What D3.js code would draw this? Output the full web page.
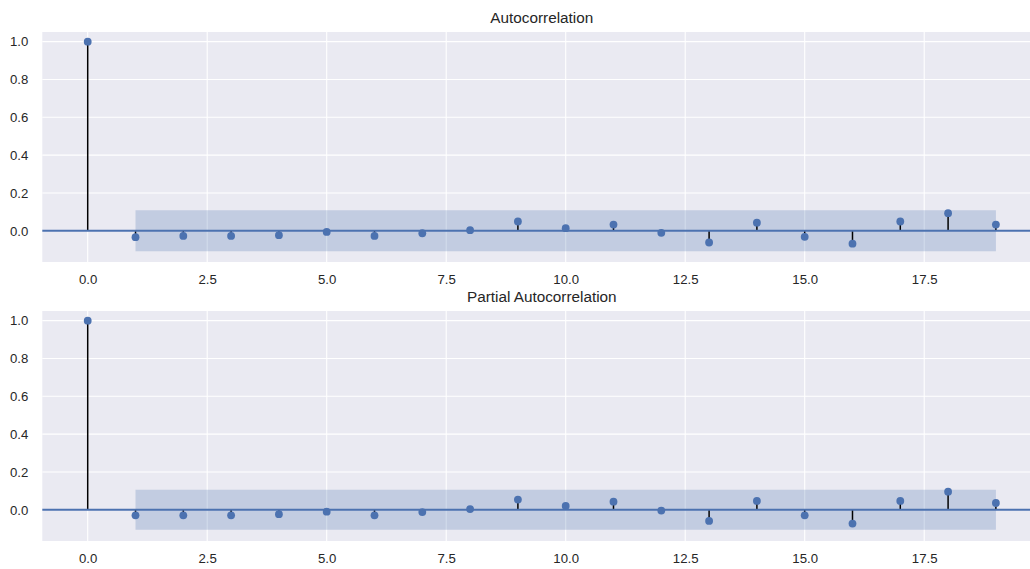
<!DOCTYPE html>
<html>
<head>
<meta charset="utf-8">
<script src="https://cdn.jsdelivr.net/npm/d3@7"></script>
<style>
  html, body { margin: 0; padding: 0; background: #ffffff; }
  svg { display: block; }
  text { font-family: "Liberation Sans", Arial, "DejaVu Sans", sans-serif; fill: #262626; }
</style>
</head>
<body>
<svg id="chart" width="1030" height="569"></svg>
<script>
// Lags shown on both correlograms
const lags = d3.range(0, 20);

// Sample autocorrelation by lag
const acfValues = [1.0, -0.034, -0.027, -0.027, -0.023, -0.006, -0.027, -0.013, 0.003, 0.049,
                   0.014, 0.033, -0.011, -0.062, 0.043, -0.032, -0.068, 0.049, 0.093, 0.033];

// Sample partial autocorrelation by lag
const pacfValues = [1.0, -0.029, -0.029, -0.029, -0.023, -0.010, -0.029, -0.012, 0.004, 0.054,
                    0.020, 0.043, -0.004, -0.059, 0.047, -0.029, -0.073, 0.047, 0.096, 0.036];

// 95% confidence half-width for lags 1..19
const acfConf  = [0.108, 0.108, 0.108, 0.108, 0.108, 0.108, 0.108, 0.108, 0.108, 0.108,
                  0.108, 0.108, 0.108, 0.108, 0.108, 0.108, 0.108, 0.108, 0.108];
const pacfConf = [0.106, 0.106, 0.106, 0.106, 0.106, 0.106, 0.106, 0.106, 0.106, 0.106,
                  0.106, 0.106, 0.106, 0.106, 0.106, 0.106, 0.106, 0.106, 0.106];

const xTicks = [0, 2.5, 5, 7.5, 10, 12.5, 15, 17.5];
const yTicks = [0, 0.2, 0.4, 0.6, 0.8, 1.0];
const titles = ["Autocorrelation", "Partial Autocorrelation"];

const svg = d3.select("#chart");
const blue = "#4c72b0";

const panels = [
  { title: titles[0], values: acfValues, conf: acfConf, top: 32, bottom: 262 },
  { title: titles[1], values: pacfValues, conf: pacfConf, top: 311, bottom: 541 }
];

const left = 42.3, right = 1041.3;
const x = d3.scaleLinear().domain([-0.95, 19.95]).range([left, right]);

panels.forEach(p => {
  const y = d3.scaleLinear().domain([-0.165, 1.051]).range([p.bottom, p.top]);
  const g = svg.append("g");

  // axes background
  g.append("rect")
    .attr("x", left).attr("y", p.top)
    .attr("width", right - left).attr("height", p.bottom - p.top)
    .attr("fill", "#eaeaf2");

  // grid
  g.selectAll(".gx").data(xTicks).join("line")
    .attr("x1", d => x(d)).attr("x2", d => x(d))
    .attr("y1", p.top).attr("y2", p.bottom)
    .attr("stroke", "#ffffff").attr("stroke-width", 1.1);
  g.selectAll(".gy").data(yTicks).join("line")
    .attr("x1", left).attr("x2", right)
    .attr("y1", d => y(d)).attr("y2", d => y(d))
    .attr("stroke", "#ffffff").attr("stroke-width", 1.1);

  // confidence band
  const bandLags = lags.slice(1);
  const area = d3.area()
    .x((d, i) => x(bandLags[i]))
    .y0(d => y(-d))
    .y1(d => y(d));
  g.append("path")
    .datum(p.conf)
    .attr("d", area)
    .attr("fill", blue)
    .attr("fill-opacity", 0.25);

  // stems
  g.selectAll(".stem").data(p.values).join("line")
    .attr("x1", (d, i) => x(lags[i])).attr("x2", (d, i) => x(lags[i]))
    .attr("y1", y(0)).attr("y2", d => y(d))
    .attr("stroke", "#000000").attr("stroke-width", 1.5);

  // zero line
  g.append("line")
    .attr("x1", left).attr("x2", right)
    .attr("y1", y(0)).attr("y2", y(0))
    .attr("stroke", blue).attr("stroke-width", 2);

  // markers
  g.selectAll(".pt").data(p.values).join("circle")
    .attr("cx", (d, i) => x(lags[i]))
    .attr("cy", d => y(d))
    .attr("r", 3.9)
    .attr("fill", blue);

  // axes via d3 axis generators, styled without spines
  const xAxis = d3.axisBottom(x).tickValues(xTicks).tickFormat(d3.format(".1f")).tickSize(0).tickPadding(13);
  const yAxis = d3.axisLeft(y).tickValues(yTicks).tickFormat(d3.format(".1f")).tickSize(0).tickPadding(14);

  const gx = svg.append("g").attr("transform", `translate(0,${p.bottom})`).call(xAxis);
  const gy = svg.append("g").attr("transform", `translate(${left},0)`).call(yAxis);
  [gx, gy].forEach(a => {
    a.select(".domain").remove();
    a.selectAll("text")
      .style("font-family", '"Liberation Sans", Arial, sans-serif')
      .style("font-size", "13.2px")
      .attr("fill", "#262626");
  });

  // title
  svg.append("text")
    .attr("x", (left + right) / 2)
    .attr("y", p.top - 9)
    .attr("text-anchor", "middle")
    .style("font-size", "15.3px")
    .text(p.title);
});
</script>
</body>
</html>
